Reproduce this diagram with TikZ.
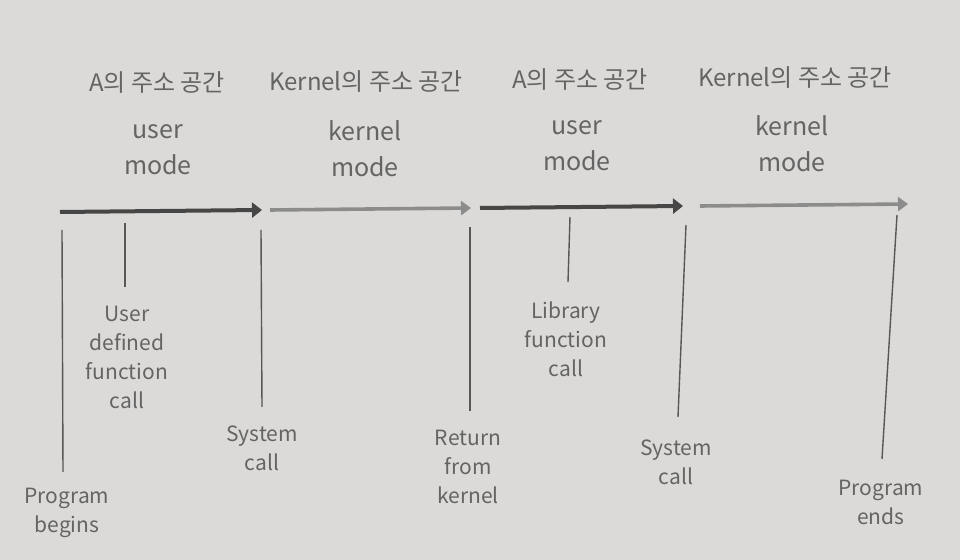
\documentclass[tikz,border=0pt]{standalone}
\usepackage{fontspec}
\setmainfont{Noto Sans CJK KR}
\usetikzlibrary{arrows.meta}
\definecolor{paper}{HTML}{DBDAD8}
\definecolor{ink}{HTML}{575757}
\definecolor{textink}{HTML}{646464}
\definecolor{darkarr}{HTML}{464646}
\definecolor{lightarr}{HTML}{8C8C8C}

\begin{document}
\begin{tikzpicture}[x=0.5pt, y=-0.5pt,
    titlenode/.style={text=textink, inner sep=0pt, font=\fontsize{12}{14}\selectfont},
    modenode/.style={text=textink, inner sep=0pt, align=center, font=\fontsize{12.5}{18}\selectfont},
    eventnode/.style={text=textink, inner sep=0pt, align=center, font=\fontsize{10.5}{14.5}\selectfont},
    userarrow/.style={draw=darkarr, line width=2pt, -{Triangle[length=5pt, width=7.5pt]}},
    kernelarrow/.style={draw=lightarr, line width=1.8pt, -{Triangle[length=5pt, width=7pt]}},
    tickline/.style={draw=ink, line width=0.7pt}]

        % background
        \fill[paper] (0,0) rectangle (960,560);

        % address spaces
        \node[titlenode] (t1) at (157,83) {A의 주소 공간};
        \node[titlenode] (t2) at (366,82) {Kernel의 주소 공간};
        \node[titlenode] (t3) at (580,80) {A의 주소 공간};
        \node[titlenode] (t4) at (795,78) {Kernel의 주소 공간};

        % modes
        \node[modenode] (m1) at (158,150) {user\\mode};
        \node[modenode] (m2) at (365,149) {kernel\\mode};
        \node[modenode] (m3) at (577,146) {user\\mode};
        \node[modenode] (m4) at (792,144) {kernel\\mode};

        % time line
        \coordinate (a1s) at (60,212);
        \coordinate (a1e) at (262,210);
        \coordinate (a2s) at (270,210);
        \coordinate (a2e) at (471,208);
        \coordinate (a3s) at (480,208);
        \coordinate (a3e) at (683,206);
        \coordinate (a4s) at (700,206);
        \coordinate (a4e) at (908,204);
        \draw[userarrow] (a1s) -- (a1e);
        \draw[kernelarrow] (a2s) -- (a2e);
        \draw[userarrow] (a3s) -- (a3e);
        \draw[kernelarrow] (a4s) -- (a4e);

        % events
        \node[eventnode] (e1) at (67,513) {Program\\begins};
        \node[eventnode] (e2) at (127,357) {User\\defined\\function\\call};
        \node[eventnode] (e3) at (262,448) {System\\call};
        \node[eventnode] (e4) at (468,467) {Return\\from\\kernel};
        \node[eventnode] (e5) at (566,339) {Library\\function\\call};
        \node[eventnode] (e6) at (676,462) {System\\call};
        \node[eventnode] (e7) at (881,502) {Program\\ends};

        \coordinate (l1t) at (62,230);
        \coordinate (l1b) at (63,472);
        \coordinate (l2t) at (125,223);
        \coordinate (l2b) at (125,287);
        \coordinate (l3t) at (261,230);
        \coordinate (l3b) at (262,407);
        \coordinate (l4t) at (470,227);
        \coordinate (l4b) at (470,411);
        \coordinate (l5t) at (570,217);
        \coordinate (l5b) at (568,282);
        \coordinate (l6t) at (686,225);
        \coordinate (l6b) at (678,417);
        \coordinate (l7t) at (897,215);
        \coordinate (l7b) at (882,459);
        \draw[tickline] (l1t) -- (l1b);
        \draw[tickline] (l2t) -- (l2b);
        \draw[tickline] (l3t) -- (l3b);
        \draw[tickline] (l4t) -- (l4b);
        \draw[tickline] (l5t) -- (l5b);
        \draw[tickline] (l6t) -- (l6b);
        \draw[tickline] (l7t) -- (l7b);

\end{tikzpicture}
\end{document}
